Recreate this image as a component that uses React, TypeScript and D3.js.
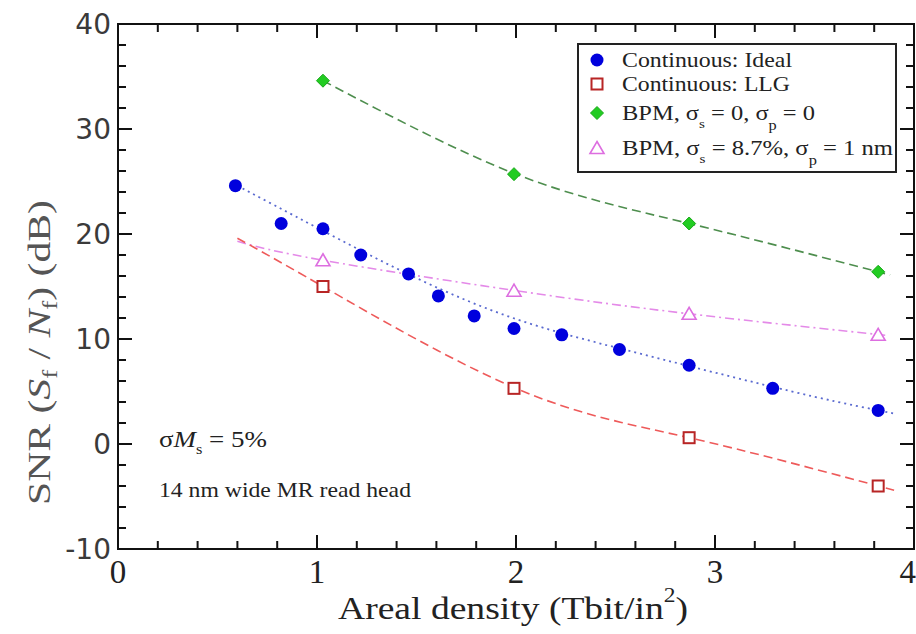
import React from "react";
import * as d3 from "d3";

// ---- data (x: areal density Tbit/in^2, y: SNR dB) ----
const idealX = [0.59, 0.82, 1.03, 1.22, 1.46, 1.61, 1.79, 1.99, 2.23, 2.52, 2.87, 3.29, 3.82];
const idealY = [24.6, 21.0, 20.5, 18.0, 16.2, 14.1, 12.2, 11.0, 10.4, 9.0, 7.5, 5.3, 3.2];

const llgX = [1.03, 1.99, 2.87, 3.82];
const llgY = [15.0, 5.3, 0.6, -4.0];

const bpm0X = [1.03, 1.99, 2.87, 3.82];
const bpm0Y = [34.6, 25.7, 21.0, 16.4];

const bpmX = [1.03, 1.99, 2.87, 3.82];
const bpmY = [17.5, 14.6, 12.4, 10.4];

// fitted trend lines
const idealFitX = [0.6, 1.0, 1.5, 2.0, 2.5, 3.0, 3.5, 3.9];
const idealFitY = [24.6, 20.6, 15.8, 11.9, 9.2, 6.8, 4.5, 2.9];
const llgFitX = [0.6, 1.03, 2.0, 2.87, 3.9];
const llgFitY = [19.6, 15.0, 5.3, 0.6, -4.4];
const bpm0FitX = [1.03, 2.0, 2.87, 3.88];
const bpm0FitY = [34.6, 25.7, 21.0, 16.1];
const bpmFitX = [0.6, 1.03, 2.0, 2.87, 3.86];
const bpmFitY = [19.3, 17.5, 14.6, 12.4, 10.35];

const xTicks = [0, 1, 2, 3, 4];
const yTicks = [-10, 0, 10, 20, 30, 40];

const W = 916;
const H = 634;
const SERIF = "'Liberation Serif', 'Times New Roman', serif";
const SANS = "'DejaVu Sans', sans-serif";

const x = d3.scaleLinear().domain([0, 4]).range([118, 914]);
const y = d3.scaleLinear().domain([-10, 40]).range([549, 24]);

const zip = (xs: number[], ys: number[]) => xs.map((v, i) => [v, ys[i]] as [number, number]);

const line = d3
  .line<[number, number]>()
  .x((d) => x(d[0]))
  .y((d) => y(d[1]))
  .curve(d3.curveNatural);

const C_BLUE = "#0000dd";
const C_RED = "#b82525";
const C_RED_LINE = "#ee5a5a";
const C_GREEN = "#22cc22";
const C_GREEN_LINE = "#4e8e4e";
const C_MAG = "#dd6ee0";
const C_MAG_LINE = "#e48ae8";
const C_BLUE_LINE = "#5a6ad0";

const Circle = ({ cx, cy }: { cx: number; cy: number }) => <circle cx={cx} cy={cy} r={6.5} fill={C_BLUE} />;
const Square = ({ cx, cy }: { cx: number; cy: number }) => (
  <rect x={cx - 5.5} y={cy - 5.5} width={11} height={11} fill="white" stroke={C_RED} strokeWidth={2} />
);
const Diamond = ({ cx, cy }: { cx: number; cy: number }) => (
  <path d={`M${cx},${cy - 6.5}L${cx + 6.5},${cy}L${cx},${cy + 6.5}L${cx - 6.5},${cy}Z`} fill={C_GREEN} stroke="#18a818" strokeWidth={1} />
);
const Triangle = ({ cx, cy }: { cx: number; cy: number }) => (
  <path d={`M${cx},${cy - 6.5}L${cx + 7},${cy + 5.5}L${cx - 7},${cy + 5.5}Z`} fill="white" stroke={C_MAG} strokeWidth={1.6} />
);

export default function App() {
  const xMinor = d3.range(0, 4.0001, 0.2);
  const yMinor = d3.range(-10, 40.0001, 2);
  const left = x(0), right = x(4), top = y(40), bottom = y(-10);

  const legendRows = [
    { cy: 60, M: Circle, len: 170, text: <tspan>Continuous: Ideal</tspan> },
    { cy: 84, M: Square, len: 168, text: <tspan>Continuous: LLG</tspan> },
    {
      cy: 113,
      M: Diamond,
      len: 193,
      text: (
        <>
          <tspan>BPM, σ</tspan>
          <tspan fontSize={13} dy={8}>s</tspan>
          <tspan dy={-8}> = 0, σ</tspan>
          <tspan fontSize={14} dy={10}>p</tspan>
          <tspan dy={-10}> = 0</tspan>
        </>
      ),
    },
    {
      cy: 148,
      M: Triangle,
      len: 271,
      text: (
        <>
          <tspan>BPM, σ</tspan>
          <tspan fontSize={13} dy={8}>s</tspan>
          <tspan dy={-8}> = 8.7%, σ</tspan>
          <tspan fontSize={14} dy={10}>p</tspan>
          <tspan dy={-10}> = 1 nm</tspan>
        </>
      ),
    },
  ];

  return (
    <svg width={W} height={H} style={{ position: "absolute", left: 0, top: 0, background: "white" }}>
      <rect x={0} y={0} width={W} height={H} fill="white" />

      {/* fit lines */}
      <path d={line(zip(bpm0FitX, bpm0FitY)) || ""} fill="none" stroke={C_GREEN_LINE} strokeWidth={1.6} strokeDasharray="9,5" />
      <path d={line(zip(bpmFitX, bpmFitY)) || ""} fill="none" stroke={C_MAG_LINE} strokeWidth={1.6} strokeDasharray="9,4,2,4" />
      <path d={line(zip(llgFitX, llgFitY)) || ""} fill="none" stroke={C_RED_LINE} strokeWidth={1.6} strokeDasharray="9,5" />
      <path d={line(zip(idealFitX, idealFitY)) || ""} fill="none" stroke={C_BLUE_LINE} strokeWidth={1.8} strokeDasharray="2,4" />

      {/* markers */}
      {zip(bpm0X, bpm0Y).map((d, i) => <Diamond key={"g" + i} cx={x(d[0])} cy={y(d[1])} />)}
      {zip(bpmX, bpmY).map((d, i) => <Triangle key={"m" + i} cx={x(d[0])} cy={y(d[1])} />)}
      {zip(llgX, llgY).map((d, i) => <Square key={"r" + i} cx={x(d[0])} cy={y(d[1])} />)}
      {zip(idealX, idealY).map((d, i) => <Circle key={"b" + i} cx={x(d[0])} cy={y(d[1])} />)}

      {/* frame */}
      <rect x={left} y={top} width={right - left} height={bottom - top} fill="none" stroke="#111" strokeWidth={2} />

      {/* ticks */}
      {xMinor.map((v, i) => {
        const major = Math.abs(v - Math.round(v)) < 1e-6;
        const len = major ? 14 : 8;
        return (
          <g key={"xt" + i} stroke="#111" strokeWidth={2}>
            <line x1={x(v)} x2={x(v)} y1={bottom} y2={bottom - len} />
            <line x1={x(v)} x2={x(v)} y1={top} y2={top + len} />
          </g>
        );
      })}
      {yMinor.map((v, i) => {
        const major = Math.abs(v / 10 - Math.round(v / 10)) < 1e-6;
        const len = major ? 14 : 8;
        return (
          <g key={"yt" + i} stroke="#111" strokeWidth={2}>
            <line x1={left} x2={left + len} y1={y(v)} y2={y(v)} />
            <line x1={right} x2={right - len} y1={y(v)} y2={y(v)} />
          </g>
        );
      })}

      {/* tick labels */}
      {yTicks.map((v) => (
        <text key={"yl" + v} x={111} y={y(v) + 10} textAnchor="end" fontFamily={SANS} fontSize={28} fill="#3a3a3a">
          {v}
        </text>
      ))}
      {xTicks.map((v) => (
        <text
          key={"xl" + v}
          x={v === 4 ? 916 : x(v)}
          y={583}
          textAnchor={v === 4 ? "end" : "middle"}
          fontFamily={SERIF}
          fontSize={33}
          fill="#222"
        >
          {v}
        </text>
      ))}

      {/* axis titles */}
      <text x={338} y={619} textLength={350} lengthAdjust="spacingAndGlyphs" fontFamily={SERIF} fontSize={32} fill="#222">
        <tspan>Areal density (Tbit/in</tspan>
        <tspan fontSize={20} dy={-17}>2</tspan>
        <tspan dy={17}>)</tspan>
      </text>
      <text
        transform="translate(50,505) rotate(-90)"
        textLength={305}
        lengthAdjust="spacingAndGlyphs"
        fontFamily={SERIF}
        fontSize={31}
        fill="#555"
      >
        <tspan>SNR (</tspan>
        <tspan fontStyle="italic">S</tspan>
        <tspan fontSize={20} dy={7}>f</tspan>
        <tspan dy={-7}> / </tspan>
        <tspan fontStyle="italic">N</tspan>
        <tspan fontSize={20} dy={7}>f</tspan>
        <tspan dy={-7}>) (dB)</tspan>
      </text>

      {/* annotations */}
      <text x={159} y={447} textLength={108} lengthAdjust="spacingAndGlyphs" fontFamily={SERIF} fontSize={23} fill="#222">
        <tspan>σ</tspan>
        <tspan fontStyle="italic">M</tspan>
        <tspan fontSize={14} dy={7}>s</tspan>
        <tspan dy={-7}> = 5%</tspan>
      </text>
      <text x={159} y={497} textLength={252} lengthAdjust="spacingAndGlyphs" fontFamily={SERIF} fontSize={21} fill="#222">
        14 nm wide MR read head
      </text>

      {/* legend */}
      <rect x={578} y={44} width={318} height={128} fill="white" stroke="#222" strokeWidth={2} />
      {legendRows.map((r, i) => (
        <g key={"lg" + i}>
          <r.M cx={597} cy={r.cy} />
          <text
            x={622}
            y={r.cy + 7}
            textLength={r.len}
            lengthAdjust="spacingAndGlyphs"
            fontFamily={SERIF}
            fontSize={21}
            fill="#222"
          >
            {r.text}
          </text>
        </g>
      ))}
    </svg>
  );
}
